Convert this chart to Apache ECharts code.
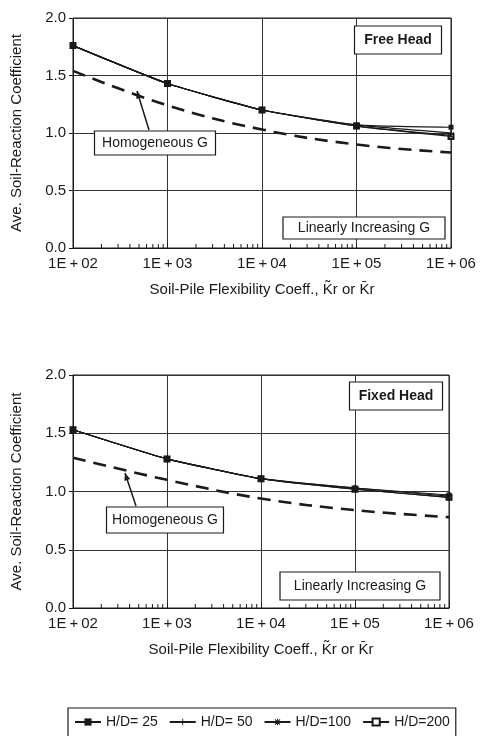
<!DOCTYPE html>
<html>
<head>
<meta charset="utf-8">
<script src="https://cdn.jsdelivr.net/npm/echarts@6/dist/echarts.min.js"></script>
<style>
  html, body { margin: 0; padding: 0; background: #fff; }
  #chart { width: 481px; height: 736px; }
</style>
</head>
<body>
<div id="chart"></div>
<script>
// Soil-pile flexibility coefficient (log scale)
const kr = [1e2, 1e3, 1e4, 1e5, 1e6];

// Linearly increasing G, free head
const freeHD25 = [1.76, 1.43, 1.20, 1.07, 1.05];
const freeHD50 = [1.76, 1.43, 1.20, 1.07, 1.00];
const freeHD100 = [1.76, 1.43, 1.20, 1.06, 0.98];
const freeHD200 = [1.76, 1.43, 1.20, 1.06, 0.97];
// Homogeneous G, free head
const freeHomog = [1.54, 1.24, 1.03, 0.90, 0.83];

// Linearly increasing G, fixed head
const fixedHD25 = [1.53, 1.28, 1.11, 1.03, 0.97];
const fixedHD50 = [1.53, 1.28, 1.11, 1.03, 0.96];
const fixedHD100 = [1.53, 1.28, 1.11, 1.02, 0.95];
const fixedHD200 = [1.53, 1.28, 1.11, 1.02, 0.95];
// Homogeneous G, fixed head
const fixedHomog = [1.29, 1.10, 0.94, 0.84, 0.78];

const seriesNames = ['H/D= 25', 'H/D= 50', 'H/D=100', 'H/D=200'];
const yTicks = [0, 0.5, 1.0, 1.5, 2.0];

const INK = '#1a1a1a';
const FONT = '"Liberation Sans", Arial, sans-serif';

// Marker shapes; the corner specks keep each path's box at 10x10 so the
// thin shapes are not stretched when scaled to the symbol size.
const SPECKS = 'M0,0h0.01v0.01h-0.01z M9.99,9.99h0.01v0.01h-0.01z ';
const symbols = [
  'rect',
  'path://' + SPECKS + 'M4.4,0.5h1.2v9h-1.2z',
  'path://' + SPECKS + 'M1,2l1,-1l7,7l-1,1z M8,1l1,1l-7,7l-1,-1z M4.4,0.5h1.2v9h-1.2z',
  'emptyRect'
];
const symbolSizes = [5, 8, 8, 5];

// Log-decade minor tick positions (2..9 within each decade)
const minorTicks = [];
for (let d = 2; d < 6; d++) {
  for (let m = 2; m <= 9; m++) minorTicks.push(m * Math.pow(10, d));
}

function expLabel(v) {
  const e = Math.round(Math.log10(v));
  return '1E\u2009+\u2009' + (e < 10 ? '0' : '') + e;
}

function pairs(ys) { return kr.map((x, i) => [x, ys[i]]); }

function xAxisFor(idx) {
  return {
    type: 'log', logBase: 10, gridIndex: idx, min: 100, max: 1e6,
    name: 'Soil-Pile Flexibility Coeff., K\u0303r or K\u0304r',
    nameLocation: 'middle', nameGap: 34,
    nameTextStyle: { fontFamily: FONT, fontSize: 15, color: INK },
    axisLine: { lineStyle: { color: INK, width: 1 } },
    axisTick: { show: true, inside: true, length: 5, lineStyle: { color: INK } },
    axisLabel: { formatter: expLabel, fontFamily: FONT, fontSize: 15, color: INK, margin: 8 },
    splitLine: { show: true, lineStyle: { color: '#333', width: 1 } }
  };
}

function yAxisFor(idx) {
  return {
    type: 'value', gridIndex: idx, min: 0, max: 2, interval: 0.5,
    name: 'Ave. Soil-Reaction Coefficient',
    nameLocation: 'middle', nameGap: 49,
    nameTextStyle: { fontFamily: FONT, fontSize: 15, color: INK },
    axisLine: { show: true, lineStyle: { color: INK, width: 1 } },
    axisTick: { show: true, length: 4, lineStyle: { color: INK } },
    axisLabel: {
      formatter: v => yTicks.includes(v) ? v.toFixed(1) : '',
      fontFamily: FONT, fontSize: 15, color: INK, margin: 7
    },
    splitLine: { show: true, lineStyle: { color: '#333', width: 1 } }
  };
}

function hdSeries(idx, sets) {
  return sets.map((ys, i) => ({
    name: seriesNames[i], type: 'line', xAxisIndex: idx, yAxisIndex: idx,
    data: pairs(ys), smooth: 0.15,
    symbol: symbols[i], symbolSize: symbolSizes[i], showSymbol: true,
    lineStyle: { color: INK, width: 1.2 },
    itemStyle: i === 3
      ? { color: INK, borderColor: INK, borderWidth: 1.2 }
      : { color: INK, borderWidth: 0 },
    // filled markers sit above the open ones
    z: 6 - i
  }));
}

function homogSeries(idx, ys) {
  return {
    name: 'Homogeneous G', type: 'line', xAxisIndex: idx, yAxisIndex: idx,
    data: pairs(ys), smooth: 0.4, symbol: 'none',
    lineStyle: { color: INK, width: 2.6, type: [13, 8] },
    z: 2
  };
}

function minorTickSeries(idx) {
  return {
    type: 'custom', xAxisIndex: idx, yAxisIndex: idx, silent: true, clip: false,
    data: minorTicks.map(v => [v, 0]),
    renderItem: (params, api) => {
      const p = api.coord([api.value(0), 0]);
      return {
        type: 'line',
        shape: { x1: p[0], y1: p[1], x2: p[0], y2: p[1] - 4 },
        style: { stroke: INK, lineWidth: 1 }
      };
    },
    z: 7
  };
}

function boxLabel(text, cx, cy, w, h, bold) {
  return {
    type: 'group', children: [
      { type: 'rect', shape: { x: cx - w / 2, y: cy - h / 2, width: w, height: h },
        style: { fill: '#fff', stroke: INK, lineWidth: 1.2 }, z: 10 },
      { type: 'text', x: cx, y: cy, z: 11,
        style: { text: text, fill: INK, align: 'center', verticalAlign: 'middle',
                 font: (bold ? 'bold ' : '') + '14px ' + FONT } }
    ]
  };
}

function arrow(x1, y1, x2, y2) {
  const a = Math.atan2(y2 - y1, x2 - x1);
  const L = 8, W = 0.4;
  return {
    type: 'group', children: [
      { type: 'line', shape: { x1, y1, x2, y2 }, style: { stroke: INK, lineWidth: 1.5 }, z: 10 },
      { type: 'polygon', z: 10,
        shape: { points: [
          [x2, y2],
          [x2 - L * Math.cos(a - W), y2 - L * Math.sin(a - W)],
          [x2 - L * Math.cos(a + W), y2 - L * Math.sin(a + W)]
        ] },
        style: { fill: INK } }
    ]
  };
}

const chart = echarts.init(document.getElementById('chart'), null, { renderer: 'canvas' });

chart.setOption({
  backgroundColor: '#fff',
  animation: false,
  grid: [
    { left: 73, top: 18, width: 378, height: 230, show: true, borderColor: INK, borderWidth: 1, backgroundColor: 'transparent' },
    { left: 73, top: 375, width: 376, height: 233, show: true, borderColor: INK, borderWidth: 1, backgroundColor: 'transparent' }
  ],
  xAxis: [xAxisFor(0), xAxisFor(1)],
  yAxis: [yAxisFor(0), yAxisFor(1)],
  legend: {
    data: seriesNames,
    left: 68, top: 708,
    orient: 'horizontal',
    itemWidth: 26, itemHeight: 9, itemGap: 11,
    padding: [7, 6, 8, 6],
    borderColor: INK, borderWidth: 1.2, borderRadius: 0,
    textStyle: { fontFamily: FONT, fontSize: 14, color: INK },
    selectedMode: false
  },
  series: [
    homogSeries(0, freeHomog),
    ...hdSeries(0, [freeHD25, freeHD50, freeHD100, freeHD200]),
    minorTickSeries(0),
    homogSeries(1, fixedHomog),
    ...hdSeries(1, [fixedHD25, fixedHD50, fixedHD100, fixedHD200]),
    minorTickSeries(1)
  ],
  graphic: [
    boxLabel('Free Head', 398, 40, 87, 28, true),
    boxLabel('Homogeneous G', 155, 143, 121, 24, false),
    arrow(149, 130, 137, 91),
    boxLabel('Linearly Increasing G', 364, 228, 162, 22, false),
    boxLabel('Fixed Head', 396, 396, 93, 28, true),
    boxLabel('Homogeneous G', 165, 520, 117, 26, false),
    arrow(136, 506, 125, 473),
    boxLabel('Linearly Increasing G', 360, 586, 160, 28, false)
  ]
});
</script>
</body>
</html>
